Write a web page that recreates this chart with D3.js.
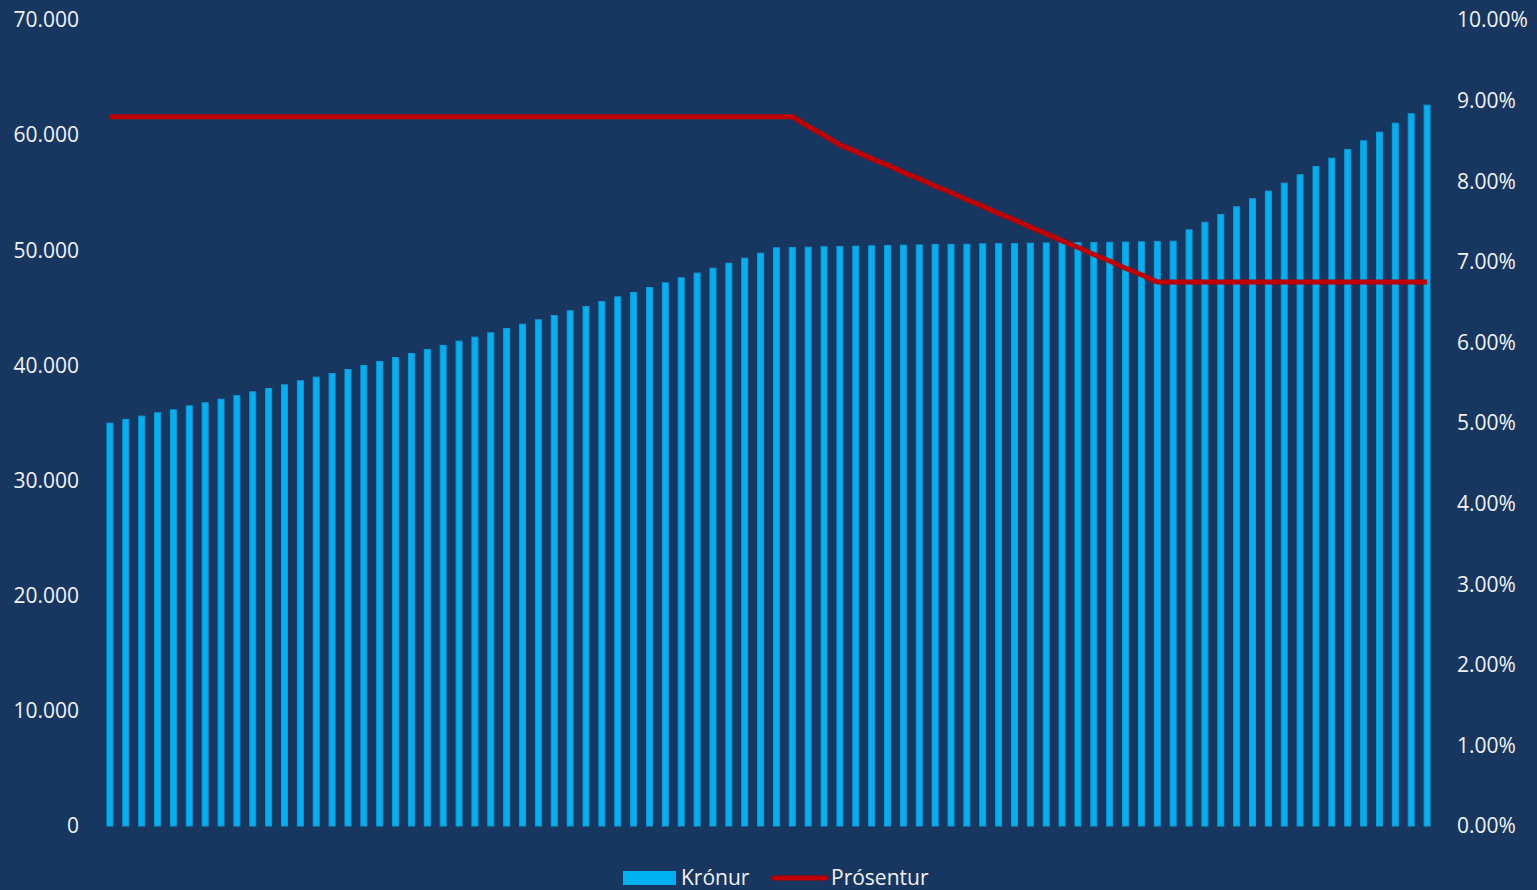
<!DOCTYPE html>
<meta charset="utf-8">
<style>
  body { margin: 0; background: #173761; }
  svg { display: block; }
  text { font-family: "Open Sans", sans-serif; fill: #f2f2f2; }
</style>
<svg width="1537" height="890"></svg>
<script src="https://d3js.org/d3.v7.min.js"></script>
<script>

// monthly amounts (krónur), 84 months
var kronur = [
  35030, 35350, 35640, 35930, 36190, 36540, 36800, 37110, 37410, 37750,
  38040, 38360, 38710, 39020, 39340, 39690, 40040, 40390, 40730, 41080,
  41430, 41780, 42150, 42500, 42880, 43250, 43630, 44010, 44380, 44790,
  45160, 45600, 46000, 46380, 46810, 47220, 47660, 48060, 48490, 48920,
  49360, 49790, 50260, 50290, 50310, 50350, 50370, 50400, 50430, 50460,
  50490, 50510, 50550, 50560, 50570, 50610, 50620, 50630, 50660, 50680,
  50700, 50710, 50720, 50740, 50750, 50780, 50810, 50830, 51820, 52480,
  53150, 53820, 54520, 55180, 55870, 56600, 57320, 58040, 58800, 59550,
  60300, 61080, 61900, 62650
];

// interest rate (%)
var prosentur = [
  8.80, 8.80, 8.80, 8.80, 8.80, 8.80, 8.80, 8.80, 8.80, 8.80,
  8.80, 8.80, 8.80, 8.80, 8.80, 8.80, 8.80, 8.80, 8.80, 8.80,
  8.80, 8.80, 8.80, 8.80, 8.80, 8.80, 8.80, 8.80, 8.80, 8.80,
  8.80, 8.80, 8.80, 8.80, 8.80, 8.80, 8.80, 8.80, 8.80, 8.80,
  8.80, 8.80, 8.80, 8.80, 8.68, 8.57, 8.45, 8.37, 8.28, 8.20,
  8.11, 8.03, 7.94, 7.86, 7.77, 7.69, 7.60, 7.52, 7.43, 7.35,
  7.26, 7.18, 7.09, 7.01, 6.92, 6.84, 6.75, 6.75, 6.75, 6.75,
  6.75, 6.75, 6.75, 6.75, 6.75, 6.75, 6.75, 6.75, 6.75, 6.75,
  6.75, 6.75, 6.75, 6.75
];

var leftTicks = [0, 10000, 20000, 30000, 40000, 50000, 60000, 70000];
var rightTicks = [0, 1, 2, 3, 4, 5, 6, 7, 8, 9, 10];

var barColor = '#00b0f0';
var lineColor = '#c00000';

var svg = d3.select("svg");

var months = d3.range(kronur.length);

var x = d3.scaleBand()
    .domain(months)
    .range([102, 1435])
    .paddingInner(0.56)
    .paddingOuter(0.28);

var y = d3.scaleLinear().domain([0, 70000]).range([826, 20]);
var y2 = d3.scaleLinear().domain([0, 10]).range([826, 20]);

// left axis labels
var fmtK = function(d) { return d3.format(",")(d).replace(/,/g, "."); };
svg.append("g")
  .selectAll("text")
  .data(leftTicks)
  .enter().append("text")
  .attr("x", 79)
  .attr("y", d => y(d))
  .attr("dy", "0.35em")
  .attr("text-anchor", "end")
  .style("font-size", "21px")
  .text(fmtK);

// right axis labels
svg.append("g")
  .selectAll("text")
  .data(rightTicks)
  .enter().append("text")
  .attr("x", 1457)
  .attr("y", d => y2(d))
  .attr("dy", "0.35em")
  .attr("text-anchor", "start")
  .style("font-size", "21px")
  .text(d => d3.format(".2f")(d) + "%");

// bars
svg.append("g")
  .selectAll("rect")
  .data(kronur)
  .enter().append("rect")
  .attr("x", (d, i) => x(i) + 0.5)
  .attr("width", x.bandwidth() - 1)
  .attr("y", d => y(d) + 0.5)
  .attr("height", d => 826 - y(d) - 0.5)
  .attr("fill", barColor)
  .attr("stroke", "#0f9bd8")
  .attr("stroke-width", 1);

// line
var line = d3.line()
  .x((d, i) => x(i) + x.bandwidth() / 2)
  .y(d => y2(d));

svg.append("path")
  .datum(prosentur)
  .attr("d", line)
  .attr("fill", "none")
  .attr("stroke", lineColor)
  .attr("stroke-width", 5)
  .attr("stroke-linejoin", "round");

// legend
var lg = svg.append("g");
lg.append("rect")
  .attr("x", 623).attr("y", 871)
  .attr("width", 53).attr("height", 14)
  .attr("fill", barColor);
lg.append("text")
  .attr("x", 681).attr("y", 885)
  .style("font-size", "21px")
  .text("Krónur");
lg.append("line")
  .attr("x1", 774).attr("x2", 826)
  .attr("y1", 878).attr("y2", 878)
  .attr("stroke", lineColor)
  .attr("stroke-width", 5)
  .attr("stroke-linecap", "round");
lg.append("text")
  .attr("x", 831).attr("y", 885)
  .style("font-size", "21px")
  .text("Prósentur");

</script>
